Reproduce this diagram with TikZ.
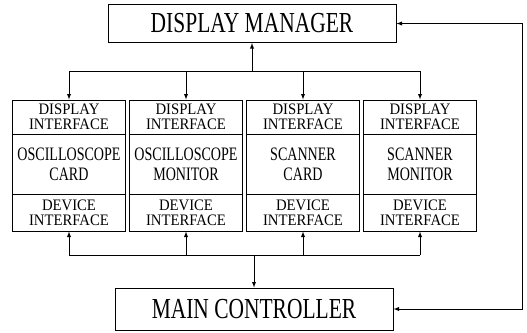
\documentclass[tikz,border=0pt]{standalone}
\usepackage{fontspec}
\setmainfont{Liberation Serif}
\newfontfamily\condfont[FakeStretch=0.74]{Liberation Serif}
\newfontfamily\ifacefont[FakeStretch=0.92]{Liberation Serif}
\usetikzlibrary{calc}

\tikzset{
  box/.style={draw,line width=1pt,inner sep=0pt,align=center},
  bigbox/.style={box,font=\condfont\fontsize{29}{30}\selectfont},
  part/.style={box,minimum width=113pt},
  iface/.style={part,font=\ifacefont\fontsize{16}{15}\selectfont},
  core/.style={part,minimum height=60pt,font=\condfont\fontsize{19}{20}\selectfont},
  wire/.style={line width=0.9pt}
}

\begin{document}
\begin{tikzpicture}[x=1pt,y=-1pt]
  \path[use as bounding box] (0,0) rectangle (527,332);

  \node[bigbox,minimum width=288pt,minimum height=38pt] (dm) at (252,23.5) {DISPLAY MANAGER};
  \node[bigbox,minimum width=278pt,minimum height=42pt] (mc) at (254,309) {MAIN CONTROLLER};

  % the four units
  \foreach \i/\name in {1/{OSCILLOSCOPE\\CARD},2/{OSCILLOSCOPE\\MONITOR},3/{SCANNER\\CARD},4/{SCANNER\\MONITOR}} {
    \pgfmathsetmacro{\cx}{69+117*(\i-1)}
    \node[iface,minimum height=34pt] (di\i) at (\cx,117) {DISPLAY\\INTERFACE};
    \node[core] (card\i) at (\cx,164) {\name};
    \node[iface,minimum height=37pt] (dev\i) at (\cx,212.5) {DEVICE\\INTERFACE};
  }

  \coordinate (tb) at (0,71);
  \coordinate (bb) at (0,255);
  \coordinate (rt) at (522,0);

  % top bus
  \draw[wire] (di1.north |- tb) -- (di4.north |- tb);
  \draw[wire,-latex] (dm.south |- tb) -- (dm.south);
  \foreach \i in {1,...,4}
    \draw[wire,-latex] (di\i.north |- tb) -- (di\i.north);

  % bottom bus
  \draw[wire] (dev1.south |- bb) -- (dev4.south |- bb);
  \draw[wire,-latex] (mc.north |- bb) -- (mc.north);
  \foreach \i in {1,...,4}
    \draw[wire,-latex] (dev\i.south |- bb) -- (dev\i.south);

  % return loop
  \draw[wire,latex-latex] (dm.east) -- (dm.east -| rt) -- (mc.east -| rt) -- (mc.east);
\end{tikzpicture}
\end{document}
